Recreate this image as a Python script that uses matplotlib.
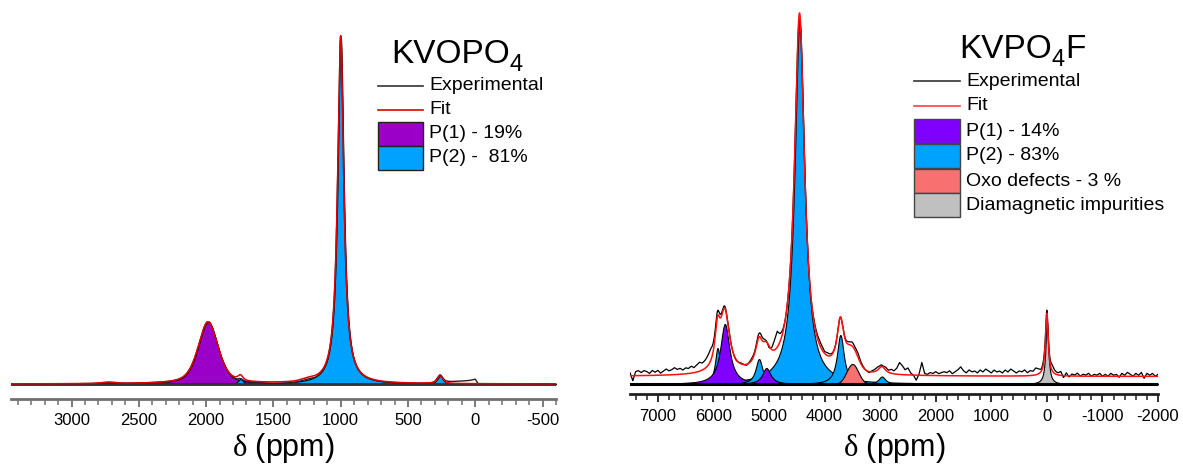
import numpy as np
import matplotlib
matplotlib.use('Agg')
import matplotlib.pyplot as plt
from matplotlib.patches import Rectangle
from matplotlib.lines import Line2D
from matplotlib.ticker import MultipleLocator

plt.rcParams['font.family'] = ['Liberation Sans', 'DejaVu Sans']
plt.rcParams['mathtext.fontset'] = 'custom'
plt.rcParams['mathtext.rm'] = 'Liberation Serif'
plt.rcParams['mathtext.it'] = 'Liberation Serif:italic'
plt.rcParams['axes.unicode_minus'] = False

# ---- KVOPO4 fitted components (ppm, height, fwhm, lorentzian fraction) ----
kvopo_p1_pos = [1985, 2725, 1245]
kvopo_p1_height = [62, 1.5, 2.0]
kvopo_p1_fwhm = [175, 120, 120]
kvopo_p1_eta = [0.5, 0.5, 0.5]

kvopo_p2_pos = [1000, 1745, 262]
kvopo_p2_height = [348, 5, 8]
kvopo_p2_fwhm = [55, 45, 50]
kvopo_p2_eta = [1.0, 0.6, 0.6]

# experimental minus fit (KVOPO4)
kvopo_res_ppm = [3450, 2800, 2750, 2700, 2650, 1850, 1780, 1745, 1700, 1600, 1500,
                 1400, 1300, 1200, 1100, 300, 200, 100, 50, 10, 0, -20, -100, -600]
kvopo_res_val = [0, 0, -0.5, -1, 0, 0, -2, -4, -1, -1, -1.5,
                 -1.5, -1.5, -2, -1, 0, 1.5, 2.5, 3, 4, 4.5, 0, 0, 0]

# ---- KVPO4F fitted components ----
kvpof_p1_pos = [5794, 5047]
kvpof_p1_height = [60, 16]
kvpof_p1_fwhm = [200, 180]

kvpof_p2_pos = [4450, 3715, 2968, 5925, 5179]
kvpof_p2_height = [362, 49, 7.5, 36, 25]
kvpof_p2_fwhm = [215, 150, 150, 110, 150]

kvpof_oxo_pos = [3500]
kvpof_oxo_height = [20]
kvpof_oxo_fwhm = [250]

kvpof_dia_pos = [0]
kvpof_dia_height = [63]
kvpof_dia_fwhm = [60]

kvpof_offset = 7.5

# experimental minus fit (KVPO4F), every 50 ppm from 7500 to -2000
kvpof_res_val = [
    3, -5, 4, 5, 3, 5, 4, 2, 5, 3,
    5, 2, 4, 6, 4, 5, 7, 5, 6, 4,
    6, 5, 7, 5, 7, 9, 7, 8, 10, 12,
    8, 6, 4, 3, 2, 1, 2, 0, -1, 0,
    1, 0, -1, 1, 2, 2, 3, 4, 3, 1,
    -2, 2, 10, 16, 8, 3, 0, 0, 0, 0,
    0, -6, 0, 0, 0, 0, 2, 3, 4, 4,
    2, 3, 2, 1, 0, 0, 0, 1, 2, 3,
    4, 3, 4, 2, 1, 0, -1, 1, 2, 3,
    2, 1, 3, 2, 4, 3, 6, 12, 9, 5,
    7, 2, 0, -5, 1, 13, 2, 1, 3, 2,
    4, 2, 3, 4, 3, 5, 2, 4, 6, 9,
    5, 3, 6, 4, 5, 3, 6, 4, 7, 5,
    3, 6, 4, 5, 3, 6, 4, 7, 5, 3,
    5, 4, 6, 3, 5, 4, 7, 5, 2, 4,
    3, 4, 6, 3, 2, 4, -2, 3, -1, 2,
    1, 3, 0, 2, 1, 3, 0, 2, 1, 3,
    0, 2, 0, 3, 1, 2, -1, 3, 1, 4,
    2, 0, 3, 1, 4, -2, 3, 1, 3, 0,
    2]
kvpof_res_ppm = np.arange(7500, -2001, -50)

c_purple_l = '#9B00C8'
c_blue = '#00A2FF'
c_purple_r = '#8000FF'
c_oxo = '#F87070'
c_dia = '#C0C0C0'


def peak(x, pos, height, fwhm, eta=1.0):
    u = (x - pos) / (fwhm / 2.0)
    return height * (eta / (1 + u ** 2) + (1 - eta) * np.exp(-np.log(2) * u ** 2))


W, H = 1183, 468
fig = plt.figure(figsize=(W / 100, H / 100), dpi=100)
renderer = fig.canvas.get_renderer()


def fx(px):
    return px / W


def fy(py):
    return 1 - py / H


def fill_peak(ax, x, y, color):
    ax.fill_between(x, 0, y, facecolor=color, edgecolor='black', linewidth=0.8)


def style_axis(ax, major, minor, spine_col, pad, labelpad):
    for s in ['left', 'right', 'top']:
        ax.spines[s].set_visible(False)
    ax.spines['bottom'].set_color(spine_col)
    ax.spines['bottom'].set_linewidth(2)
    ax.set_yticks([])
    ax.xaxis.set_major_locator(MultipleLocator(major))
    ax.xaxis.set_minor_locator(MultipleLocator(minor))
    ax.tick_params(axis='x', which='major', length=6, width=1.3, color=spine_col,
                   labelsize=12, pad=pad)
    ax.tick_params(axis='x', which='minor', length=4, width=1.1, color=spine_col)
    ax.xaxis.set_major_formatter(plt.FuncFormatter(lambda v, p: '%d' % v))
    ax.set_xlabel(r'$\mathrm{\delta}$ (ppm)', fontsize=22, labelpad=labelpad)
    ax.patch.set_alpha(0)


# ---------------- left: KVOPO4 ----------------
axl = fig.add_axes([fx(11), fy(399), fx(545), 379 / H])
xl = np.linspace(3450, -600, 5000)
fit_l = np.zeros_like(xl)
for p, h, w, e in zip(kvopo_p1_pos, kvopo_p1_height, kvopo_p1_fwhm, kvopo_p1_eta):
    y = peak(xl, p, h, w, e)
    fit_l += y
    fill_peak(axl, xl, y, c_purple_l)
for p, h, w, e in zip(kvopo_p2_pos, kvopo_p2_height, kvopo_p2_fwhm, kvopo_p2_eta):
    y = peak(xl, p, h, w, e)
    fit_l += y
    fill_peak(axl, xl, y, c_blue)
exp_l = fit_l + np.interp(xl, kvopo_res_ppm[::-1], kvopo_res_val[::-1])
axl.axhline(0, color='#333333', lw=2)
axl.plot(xl, exp_l, color='#222222', lw=1.0)
axl.plot(xl, fit_l, color='#E00000', lw=1.1)
axl.set_xlim(3450, -600)
axl.set_ylim(-15, 364)
style_axis(axl, 500, 100, '#707070', 4, 2)

# ---------------- right: KVPO4F ----------------
axr = fig.add_axes([fx(630), fy(394), fx(528), 384 / H])
xr = np.linspace(7500, -2000, 8000)
fit_r = np.full_like(xr, kvpof_offset)
comps = []
for p, h, w in zip(kvpof_dia_pos, kvpof_dia_height, kvpof_dia_fwhm):
    comps.append((peak(xr, p, h, w), c_dia))
for p, h, w in zip(kvpof_p2_pos[:3], kvpof_p2_height[:3], kvpof_p2_fwhm[:3]):
    comps.append((peak(xr, p, h, w), c_blue))
for p, h, w in zip(kvpof_oxo_pos, kvpof_oxo_height, kvpof_oxo_fwhm):
    comps.append((peak(xr, p, h, w, 0.0), c_oxo))
comps.append((peak(xr, kvpof_p2_pos[3], kvpof_p2_height[3], kvpof_p2_fwhm[3]), c_blue))
comps.append((peak(xr, kvpof_p1_pos[0], kvpof_p1_height[0], kvpof_p1_fwhm[0]), c_purple_r))
comps.append((peak(xr, kvpof_p2_pos[4], kvpof_p2_height[4], kvpof_p2_fwhm[4]), c_blue))
comps.append((peak(xr, kvpof_p1_pos[1], kvpof_p1_height[1], kvpof_p1_fwhm[1]), c_purple_r))
for y, c in comps:
    fit_r += y
    fill_peak(axr, xr, y, c)
exp_r = fit_r + np.interp(xr, kvpof_res_ppm[::-1], kvpof_res_val[::-1])
axr.axhline(0, color='black', lw=2.2)
axr.plot(xr, exp_r, color='black', lw=0.9)
axr.plot(xr, fit_r, color='#FF1010', lw=1.1)
axr.set_xlim(7500, -2000)
axr.set_ylim(-10, 374)
style_axis(axr, 1000, 200, '#202020', 5, 5)


# ---------------- legends ----------------
def title_parts(parts, tx, ty):
    # parts: list of (text, is_subscript)
    x = tx
    for txt, sub in parts:
        t = fig.text(fx(x), fy(ty + (8 if sub else 0)), txt,
                     fontsize=17 if sub else 24, va='baseline', ha='left')
        x += t.get_window_extent(renderer).width


def legend(parts, tx, ty, rows, hx0, hx1, textx, edge):
    title_parts(parts, tx, ty)
    for (label, kind, col), yy in rows:
        if kind == 'line':
            fig.add_artist(Line2D([fx(hx0), fx(hx1)], [fy(yy), fy(yy)], color=col, lw=1.2))
        else:
            fig.add_artist(Rectangle((fx(hx0), fy(yy + 11.5)), fx(hx1 - hx0), 23 / H,
                                     facecolor=col, edgecolor=edge, lw=1.0))
        fig.text(fx(textx), fy(yy), label, fontsize=14, va='center', ha='left')


left_rows = [('Experimental', 'line', '#333333'), ('Fit', 'line', '#E00000'),
             ('P(1) - 19%', 'patch', c_purple_l), ('P(2) -  81%', 'patch', c_blue)]
legend([('KVOPO', False), ('4', True)], 391, 63, zip(left_rows, [86, 110, 134, 158]),
       378, 423, 429, '#222222')

right_rows = [('Experimental', 'line', '#333333'), ('Fit', 'line', '#FF4040'),
              ('P(1) - 14%', 'patch', c_purple_r), ('P(2) - 83%', 'patch', c_blue),
              ('Oxo defects - 3 %', 'patch', c_oxo),
              ('Diamagnetic impurities', 'patch', c_dia)]
legend([('KVPO', False), ('4', True), ('F', False)], 959, 58,
       zip(right_rows, [81, 106, 131, 156, 181, 205]), 914, 960, 966, '#444444')

fig.savefig('out.png', dpi=100)
